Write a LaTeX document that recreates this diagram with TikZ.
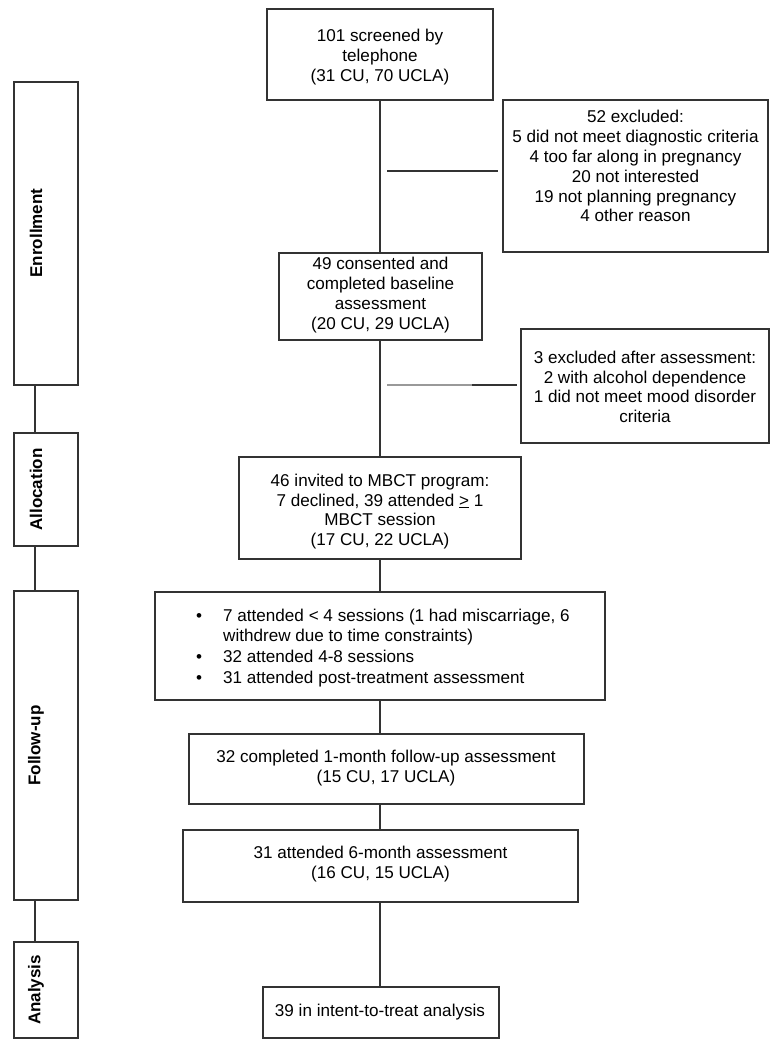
\documentclass[tikz,border=0pt]{standalone}
\usepackage{fontspec}
\setmainfont{Liberation Sans}
\begin{document}
\begin{tikzpicture}[x=1pt,y=-1pt,
  box/.style={draw=black!80, line width=1.1pt, inner sep=0pt},
  conn/.style={draw=black!80, line width=1.1pt},
  txt/.style={inner sep=0pt, align=center, text=black, font=\fontsize{17.1}{19.8}\selectfont},
  lab/.style={inner sep=0pt, rotate=90, text=black, font=\fontsize{17}{20}\selectfont\bfseries}]
\useasboundingbox (0,0) rectangle (780,1050);

% left phase bars
\node[box, minimum width=64pt, minimum height=303pt] (enr) at (46,233.5) {};
\node[box, minimum width=64pt, minimum height=113pt] (alloc) at (46,489.5) {};
\node[box, minimum width=64pt, minimum height=309pt] (fol) at (46,745.5) {};
\node[box, minimum width=64pt, minimum height=96pt] (ana) at (46,990) {};
\node[lab] (lenr) at (36,233) {Enrollment};
\node[lab] (lalloc) at (36,489.5) {Allocation};
\node[lab] (lfol) at (36,745.5) {Follow-up};
\node[lab] (lana) at (36,990) {Analysis};
\draw[conn] ([xshift=-11pt]enr.south) -- ([xshift=-11pt]alloc.north);
\draw[conn] ([xshift=-11pt]alloc.south) -- ([xshift=-11pt]fol.north);
\draw[conn] ([xshift=-11pt]fol.south) -- ([xshift=-11pt]ana.north);

% main boxes
\node[box, minimum width=226pt, minimum height=91pt] (b1) at (380,54.5) {};
\node[box, minimum width=265pt, minimum height=152pt] (ex1) at (635.5,176) {};
\node[box, minimum width=203pt, minimum height=87pt] (b3) at (380.5,296.5) {};
\node[box, minimum width=248pt, minimum height=114pt] (ex2) at (645,386) {};
\node[box, minimum width=282pt, minimum height=102pt] (b5) at (380,508) {};
\node[box, minimum width=450pt, minimum height=108pt] (bul) at (380,646) {};
\node[box, minimum width=395pt, minimum height=70pt] (b7) at (386.5,769) {};
\node[box, minimum width=395pt, minimum height=72pt] (b8) at (380.5,866) {};
\node[box, minimum width=236pt, minimum height=51pt] (b9) at (381,1012.5) {};

% texts
\node[txt] (t1) at (380,57.5) {\strut 101 screened by\\\strut telephone\\\strut (31 CU, 70 UCLA)};
\node[txt] (tex1) at (635.5,168.5) {\strut 52 excluded:\\\strut 5 did not meet diagnostic criteria\\\strut 4 too far along in pregnancy\\\strut 20 not interested\\\strut 19 not planning pregnancy\\\strut 4 other reason};
\node[txt] (t3) at (380.5,295.5) {\strut 49 consented and\\\strut completed baseline\\\strut assessment\\\strut (20 CU, 29 UCLA)};
\node[txt] (tex2) at (645,389) {\strut 3 excluded after assessment:\\\strut 2 with alcohol dependence\\\strut 1 did not meet mood disorder\\\strut criteria};
\node[txt] (t5) at (380,512) {\strut 46 invited to MBCT program:\\\strut 7 declined, 39 attended \underline{>} 1\\\strut MBCT session\\\strut (17 CU, 22 UCLA)};
\node[txt, align=left, anchor=west] (tb) at (223,648.5) {\llap{\textbullet\hspace{21pt}}\strut 7 attended < 4 sessions (1 had miscarriage, 6\\\strut withdrew due to time constraints)\\[1.4pt]\llap{\textbullet\hspace{21pt}}\strut 32 attended 4-8 sessions\\[1.4pt]\llap{\textbullet\hspace{21pt}}\strut 31 attended post-treatment assessment};
\node[txt] (t7) at (386,768.5) {\strut 32 completed 1-month follow-up assessment\\\strut (15 CU, 17 UCLA)};
\node[txt] (t8) at (380.5,864.5) {\strut 31 attended 6-month assessment\\\strut (16 CU, 15 UCLA)};
\node[txt] (t9) at (380,1012.5) {\strut 39 in intent-to-treat analysis};

% main axis connectors
\coordinate (axis) at (380,0);
\draw[conn] (b1.south -| axis) -- (b3.north -| axis);
\draw[conn] (b3.south -| axis) -- (b5.north -| axis);
\draw[conn] (b5.south -| axis) -- (bul.north -| axis);
\draw[conn] (bul.south -| axis) -- (b7.north -| axis);
\draw[conn] (b7.south -| axis) -- (b8.north -| axis);
\draw[conn] (b8.south -| axis) -- (b9.north -| axis);

% branches to exclusion boxes
\coordinate (h1) at (387,171);
\coordinate (h1e) at (498,171);
\draw[conn] (h1) -- (h1e);
\coordinate (h2) at (387,385);
\coordinate (h2m) at (472,385);
\coordinate (h2e) at (517,385);
\draw[conn, draw=black!40] (h2) -- (h2m);
\draw[conn] (h2m) -- (h2e);
\end{tikzpicture}
\end{document}
